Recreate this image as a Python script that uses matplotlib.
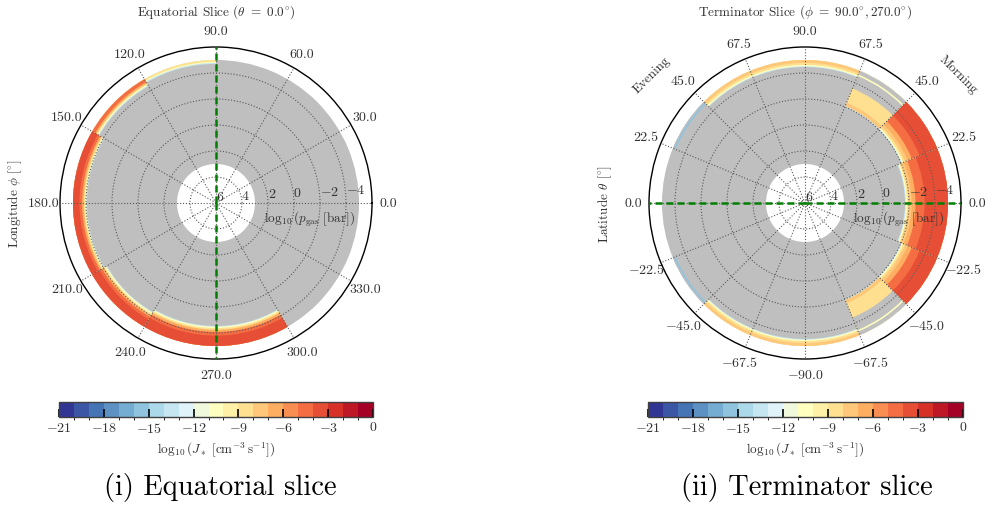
import numpy as np
import matplotlib
matplotlib.use('Agg')
import matplotlib.pyplot as plt
from matplotlib.colors import BoundaryNorm
from matplotlib.cm import ScalarMappable

plt.rcParams['font.family'] = 'serif'
plt.rcParams['font.serif'] = ['cmr10']
plt.rcParams['mathtext.fontset'] = 'cm'
plt.rcParams['axes.formatter.use_mathtext'] = True

# model grid spans log10(p/bar) from 3 (deep) to -5 (top); plotted radius is -log10(p)
P_DEEP, P_TOP = 3.0, -5.0
R_LIM = (-6, 6)
R_TICKS = [-6, -4, -2, 0, 2, 4]
R_TICKLABELS = ['6', '4', '2', '0', '$-2$', '$-4$']

J_BOUNDS = np.arange(-21, 1)
CBAR_TICKS = np.arange(-21, 1, 3)
CBAR_TICKLABELS = ['$-21$', '$-18$', '$-15$', '$-12$', '$-9$', '$-6$', '$-3$', '0']

GRAY = '0.75'
TEXT = '0.2'

# equatorial slice: longitude sectors [deg], layer edges in log10 p (deep -> top),
# log10 J inside each layer
eq_sectors = [(90, 120), (120, 150), (150, 210), (210, 240), (240, 300)]
eq_edges = [
    [-4.70, -4.78, -4.86, -5.0],
    [-4.38, -4.45, -4.53, -4.62, -4.74, -5.0],
    [-3.92, -3.98, -4.07, -4.17, -4.30, -4.50, -5.0],
    [-3.69, -3.75, -3.85, -3.97, -4.12, -4.35, -5.0],
    [-3.46, -3.52, -3.62, -3.75, -3.92, -4.20, -5.0],
]
eq_logJ = [
    [-13.5, -10.5, -8.5],
    [-13.5, -10.5, -8.5, -6.5, -4.5],
    [-13.5, -10.5, -8.5, -6.5, -4.5, -3.5],
    [-13.5, -10.5, -8.5, -6.5, -4.5, -3.5],
    [-13.5, -10.5, -8.5, -6.5, -4.5, -3.5],
]
eq_theta_ticks = np.arange(0, 360, 30)
eq_theta_labels = ['0.0', '30.0', '60.0', '90.0', '120.0', '150.0', '180.0',
                   '210.0', '240.0', '270.0', '300.0', '330.0']

# terminator slice: polar angle sectors [deg] (0 = morning equator), None = no nucleation
term_sectors = [(-45, -22.5), (-22.5, 22.5), (22.5, 45), (45, 67.5), (67.5, 135),
                (135, 157.5), (202.5, 225), (225, 292.5), (292.5, 315)]
term_edges = [
    [-2.00, -2.07, -2.17, -2.32, -2.55, -2.90, -3.55, -5.0],
    [-1.69, -1.76, -1.85, -1.98, -2.20, -2.50, -3.20, -5.0],
    [-2.00, -2.07, -2.17, -2.32, -2.55, -2.90, -3.55, -5.0],
    [-2.00, -2.07, -2.35, -3.54, -4.58, -4.70, -5.0],
    [-4.46, -4.52, -4.62, -4.78, -5.0],
    [-4.77, -4.90, -5.0],
    [-4.77, -4.90, -5.0],
    [-4.46, -4.52, -4.62, -4.78, -5.0],
    [-2.00, -2.07, -2.35, -3.54, -4.58, -4.70, -5.0],
]
term_logJ = [
    [-13.5, -10.5, -8.5, -7.5, -6.5, -4.5, -3.5],
    [-13.5, -10.5, -8.5, -7.5, -6.5, -4.5, -3.5],
    [-13.5, -10.5, -8.5, -7.5, -6.5, -4.5, -3.5],
    [-13.5, -7.5, -8.5, None, -10.5, None],
    [-13.5, -10.5, -8.5, -7.5],
    [-15.5, None],
    [-15.5, None],
    [-13.5, -10.5, -8.5, -7.5],
    [-13.5, -7.5, -8.5, None, -10.5, None],
]
term_theta_ticks = np.arange(0, 360, 22.5)
term_theta_labels = ['0.0', '22.5', '45.0', '67.5', '90.0', '67.5', '45.0', '22.5', '0.0',
                     '$-22.5$', '$-45.0$', '$-67.5$', '$-90.0$', '$-67.5$', '$-45.0$', '$-22.5$']

cmap = plt.get_cmap('RdYlBu_r', len(J_BOUNDS) - 1)
norm = BoundaryNorm(J_BOUNDS, cmap.N)


def draw_slice(ax, sectors, edges, values):
    # gray background over the whole model grid
    ax.bar(0, P_DEEP - P_TOP, width=2 * np.pi, bottom=-P_DEEP, color=GRAY,
           linewidth=0, align='center')
    for (t0, t1), e, v in zip(sectors, edges, values):
        top = e[-1]
        # paint deep -> top, each layer reaching the top so no seams show
        for lo, val in zip(e[:-1], v):
            color = GRAY if val is None else cmap(norm(val))
            ax.bar(np.deg2rad((t0 + t1) / 2), lo - top, width=np.deg2rad(t1 - t0),
                   bottom=-lo, color=color, linewidth=0, align='center')


def setup_polar(ax, ticks, labels):
    ax.set_rlim(*R_LIM)
    ax.set_rticks(R_TICKS)
    ax.set_yticklabels(R_TICKLABELS)
    ax.set_rlabel_position(3)
    ax.set_thetagrids(ticks, labels)
    ax.tick_params(axis='x', labelsize=10, colors=TEXT, pad=1)
    ax.tick_params(axis='y', labelsize=10, colors=TEXT)
    ax.grid(True, color='0.35', linestyle=':', linewidth=0.8)
    ax.spines['polar'].set_linewidth(1.0)


def add_colorbar(fig, rect):
    cax = fig.add_axes(rect)
    cb = fig.colorbar(ScalarMappable(norm=norm, cmap=cmap), cax=cax,
                      orientation='horizontal', ticks=CBAR_TICKS)
    cb.ax.set_xticklabels(CBAR_TICKLABELS)
    cb.ax.tick_params(direction='in', length=6, width=1.2, color='k',
                      labelsize=10, labelcolor=TEXT, pad=3)
    cb.outline.set_edgecolor('0.25')
    cb.outline.set_linewidth(1.0)
    cb.set_label(r'$\log_{10}(J_*\ [\mathrm{cm}^{-3}\,\mathrm{s}^{-1}])$',
                 fontsize=9.5, color=TEXT, labelpad=3)
    return cb


W, H = 988, 510
fig = plt.figure(figsize=(W / 100, H / 100), dpi=100)

# equatorial slice
ax1 = fig.add_axes([60 / W, 150 / H, 312 / W, 312 / H], projection='polar')
draw_slice(ax1, eq_sectors, eq_edges, eq_logJ)
setup_polar(ax1, eq_theta_ticks, eq_theta_labels)
ax1.plot([np.pi / 2, np.pi / 2], R_LIM, color='g', linestyle='--', dashes=(2.8, 1.6), lw=1.8, zorder=5)
ax1.plot([3 * np.pi / 2, 3 * np.pi / 2], R_LIM, color='g', linestyle='--', dashes=(2.8, 1.6), lw=1.8, zorder=5)
ax1.text(0.80, 0.449, r'$\log_{10}(p_{\mathrm{gas}}\ [\mathrm{bar}])$', transform=ax1.transAxes,
         ha='center', va='center', fontsize=9.5, color=TEXT)
fig.text(216 / W, 1 - 12 / H, r'Equatorial Slice ($\theta\ =\ 0.0^{\circ}$)',
         ha='center', va='center', fontsize=9.5, color=TEXT)
fig.text(15 / W, 1 - 204 / H, r'Longitude $\phi$ [$^{\circ}$]', rotation=90,
         ha='center', va='center', fontsize=9.5, color=TEXT)
add_colorbar(fig, [59 / W, (H - 418) / H, 314 / W, 15 / H])
fig.text(220 / W, 1 - 488 / H, '(i) Equatorial slice', ha='center', va='center', fontsize=20.5)

# terminator slice
ax2 = fig.add_axes([649 / W, 150 / H, 312 / W, 312 / H], projection='polar')
draw_slice(ax2, term_sectors, term_edges, term_logJ)
setup_polar(ax2, term_theta_ticks, term_theta_labels)
ax2.plot([0, 0], R_LIM, color='g', linestyle='--', dashes=(2.8, 1.6), lw=1.8, zorder=5)
ax2.plot([np.pi, np.pi], R_LIM, color='g', linestyle='--', dashes=(2.8, 1.6), lw=1.8, zorder=5)
ax2.text(0.80, 0.449, r'$\log_{10}(p_{\mathrm{gas}}\ [\mathrm{bar}])$', transform=ax2.transAxes,
         ha='center', va='center', fontsize=9.5, color=TEXT)
fig.text(805 / W, 1 - 12 / H, r'Terminator Slice ($\phi\ =\ 90.0^{\circ}, 270.0^{\circ}$)',
         ha='center', va='center', fontsize=9.5, color=TEXT)
fig.text(605 / W, 1 - 204 / H, r'Latitude $\theta$ [$^{\circ}$]', rotation=90,
         ha='center', va='center', fontsize=9.5, color=TEXT)
fig.text(652 / W, 1 - 75 / H, 'Evening', rotation=45, ha='center', va='center',
         fontsize=9.5, color=TEXT)
fig.text(958 / W, 1 - 75 / H, 'Morning', rotation=-45, ha='center', va='center',
         fontsize=9.5, color=TEXT)
add_colorbar(fig, [648 / W, (H - 418) / H, 315 / W, 15 / H])
fig.text(807 / W, 1 - 488 / H, '(ii) Terminator slice', ha='center', va='center', fontsize=20.5)

fig.savefig('out.png', dpi=100)
